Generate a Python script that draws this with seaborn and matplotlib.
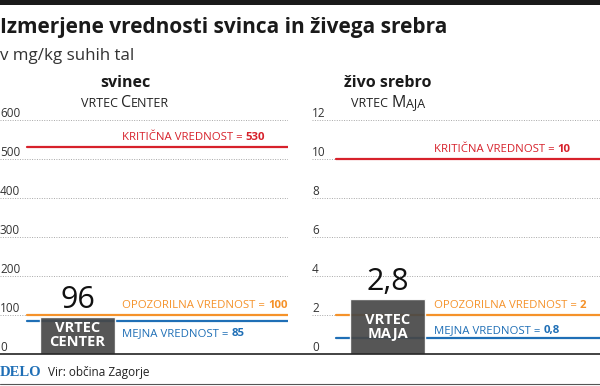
import matplotlib
matplotlib.use('Agg')
import matplotlib.pyplot as plt
import seaborn as sns
from matplotlib.lines import Line2D
from matplotlib.patches import Rectangle

# podatki
snovi = ['svinec', 'živo srebro']
vrtci = ['Center', 'Maja']
vrednosti = [96, 2.8]
oznake_vrednosti = ['96', '2,8']
kriticna = [530, 10]
opozorilna = [100, 2]
mejna = [85, 0.8]
kriticna_txt = ['530', '10']
opozorilna_txt = ['100', '2']
mejna_txt = ['85', '0,8']
ymax = [600, 12]
yticks = [[0, 100, 200, 300, 400, 500, 600], [0, 2, 4, 6, 8, 10, 12]]
vir = 'Vir: občina Zagorje'

RED = '#d7212b'
ORANGE = '#f5922a'
BLUE = '#1f6fb6'
BAR = '#474747'

sns.set_theme(style='white')
plt.rcParams['font.family'] = ['Open Sans', 'DejaVu Sans']

W, H = 600, 386
fig = plt.figure(figsize=(6, 3.86), dpi=100)
fig.patch.set_facecolor('white')

def fx(px):
    return px / W

def fy(py):
    return 1 - py / H

# crni trak zgoraj
fig.add_artist(Rectangle((0, fy(4.5)), 1, 4.5 / H, transform=fig.transFigure,
                         color='#1a1a1a', lw=0))

fig.text(0, fy(33), 'Izmerjene vrednosti svinca in živega srebra', fontsize=15,
         fontweight='bold', color='#1a1a1a', va='baseline', ha='left')
fig.text(0, fy(60), 'v mg/kg suhih tal', fontsize=12.2, color='#333333',
         va='baseline', ha='left')

ax_left = [0, 312]
centri = [125, 388]
xlims = [(-0.827, 2.245), (-0.81, 2.262)]
line_start = [27 / 288, 24 / 288]
mejna_dy = [-11, 3.6]
smallcaps = [[('VRTEC ', 9), ('C', 11.5), ('ENTER', 9)],
             [('VRTEC ', 9), ('M', 11.5), ('AJA', 9)]]
napis_stolpca = ['VRTEC\nCENTER', 'VRTEC\nMAJA']


def ref_label(ax, y, name, val, color, dy):
    t1 = ax.annotate(name + ' = ', xy=(0.424, y), xycoords=('axes fraction', 'data'),
                     xytext=(0, dy), textcoords='offset points', ha='left',
                     va='baseline', color=color, fontsize=8.2)
    ax.annotate(val, xy=(1, y), xycoords=(t1, 'data'), xytext=(0, dy),
                textcoords='offset points', ha='left', va='baseline', color=color,
                fontsize=8.2, fontweight='bold')


heads = []
for i in range(2):
    ax = fig.add_axes([fx(ax_left[i]), fy(354), fx(288), (354 - 120) / H])
    ax.patch.set_alpha(0)
    sns.barplot(x=[vrtci[i]], y=[vrednosti[i]], ax=ax, color=BAR, width=0.8,
                saturation=1, zorder=3, alpha=0.92)
    ax.set_xlim(xlims[i])
    ax.set_ylim(0, ymax[i])
    ax.set_yticks(yticks[i])
    ax.set_yticklabels([])
    ax.set_xticks([])
    ax.set_xlabel('')
    ax.set_ylabel('')
    ax.tick_params(length=0)
    for s in ax.spines.values():
        s.set_visible(False)
    ax.set_axisbelow(True)
    ax.yaxis.grid(True, linestyle=(0, (1, 1.5)), color='#a8a8a8', lw=0.7)

    for t in yticks[i]:
        ax.annotate(str(t), xy=(0, t), xycoords=('axes fraction', 'data'),
                    xytext=(0, 2.2), textcoords='offset points', ha='left',
                    va='baseline', fontsize=8.5, color='#333333')

    ax.axhline(kriticna[i], xmin=line_start[i], xmax=1, color=RED, lw=1.6, zorder=2)
    ax.axhline(opozorilna[i], xmin=line_start[i], xmax=1, color=ORANGE, lw=1.6, zorder=2)
    ax.axhline(mejna[i], xmin=line_start[i], xmax=1, color=BLUE, lw=1.6, zorder=2)

    ref_label(ax, kriticna[i], 'KRITIČNA VREDNOST', kriticna_txt[i], RED, 5)
    ref_label(ax, opozorilna[i], 'OPOZORILNA VREDNOST', opozorilna_txt[i], ORANGE, 5)
    ref_label(ax, mejna[i], 'MEJNA VREDNOST', mejna_txt[i], BLUE, mejna_dy[i])

    ax.annotate(oznake_vrednosti[i], xy=(0, vrednosti[i]), xytext=(0, 6.5),
                textcoords='offset points', ha='center', va='baseline',
                fontsize=22, color='#111111')
    ax.text(0, vrednosti[i] / 2, napis_stolpca[i], ha='center', va='center',
            color='white', fontsize=10.5, fontweight='bold', linespacing=1.0,
            zorder=5)

    fig.text(fx(centri[i]), fy(87), snovi[i], ha='center', va='baseline',
             fontsize=11.5, fontweight='bold', color='#1a1a1a')

    # male velike crke
    parts = smallcaps[i]
    t0 = fig.text(fx(centri[i]), fy(107), parts[0][0], fontsize=parts[0][1],
                  ha='left', va='baseline', color='#222222')
    chain = [t0]
    for txt, size in parts[1:]:
        t = fig.add_artist(plt.Annotation(txt, xy=(1, fy(107)),
                                          xycoords=(chain[-1], 'figure fraction'),
                                          ha='left', va='baseline', fontsize=size,
                                          color='#222222'))
        chain.append(t)
    heads.append((i, chain))

# spodnja crta in noga
fig.add_artist(Line2D([0, 1], [fy(354), fy(354)], transform=fig.transFigure,
                      color='#222222', lw=1.2))
fig.add_artist(Line2D([0, 1], [fy(384), fy(384)], transform=fig.transFigure,
                      color='#555555', lw=0.8))
fig.text(0, fy(376), 'DELO', fontsize=10.5, fontweight='bold', color=BLUE,
         family='Liberation Serif', va='baseline', ha='left')
fig.text(fx(48), fy(376), vir, fontsize=8.5, color='#222222', va='baseline', ha='left')

# centriranje malih velikih crk
fig.canvas.draw()
r = fig.canvas.get_renderer()
for i, chain in heads:
    x0 = chain[0].get_window_extent(r).x0
    x1 = chain[-1].get_window_extent(r).x1
    w = x1 - x0
    chain[0].set_x(fx(centri[i] - w / 2))

fig.savefig('out.png', dpi=100)
